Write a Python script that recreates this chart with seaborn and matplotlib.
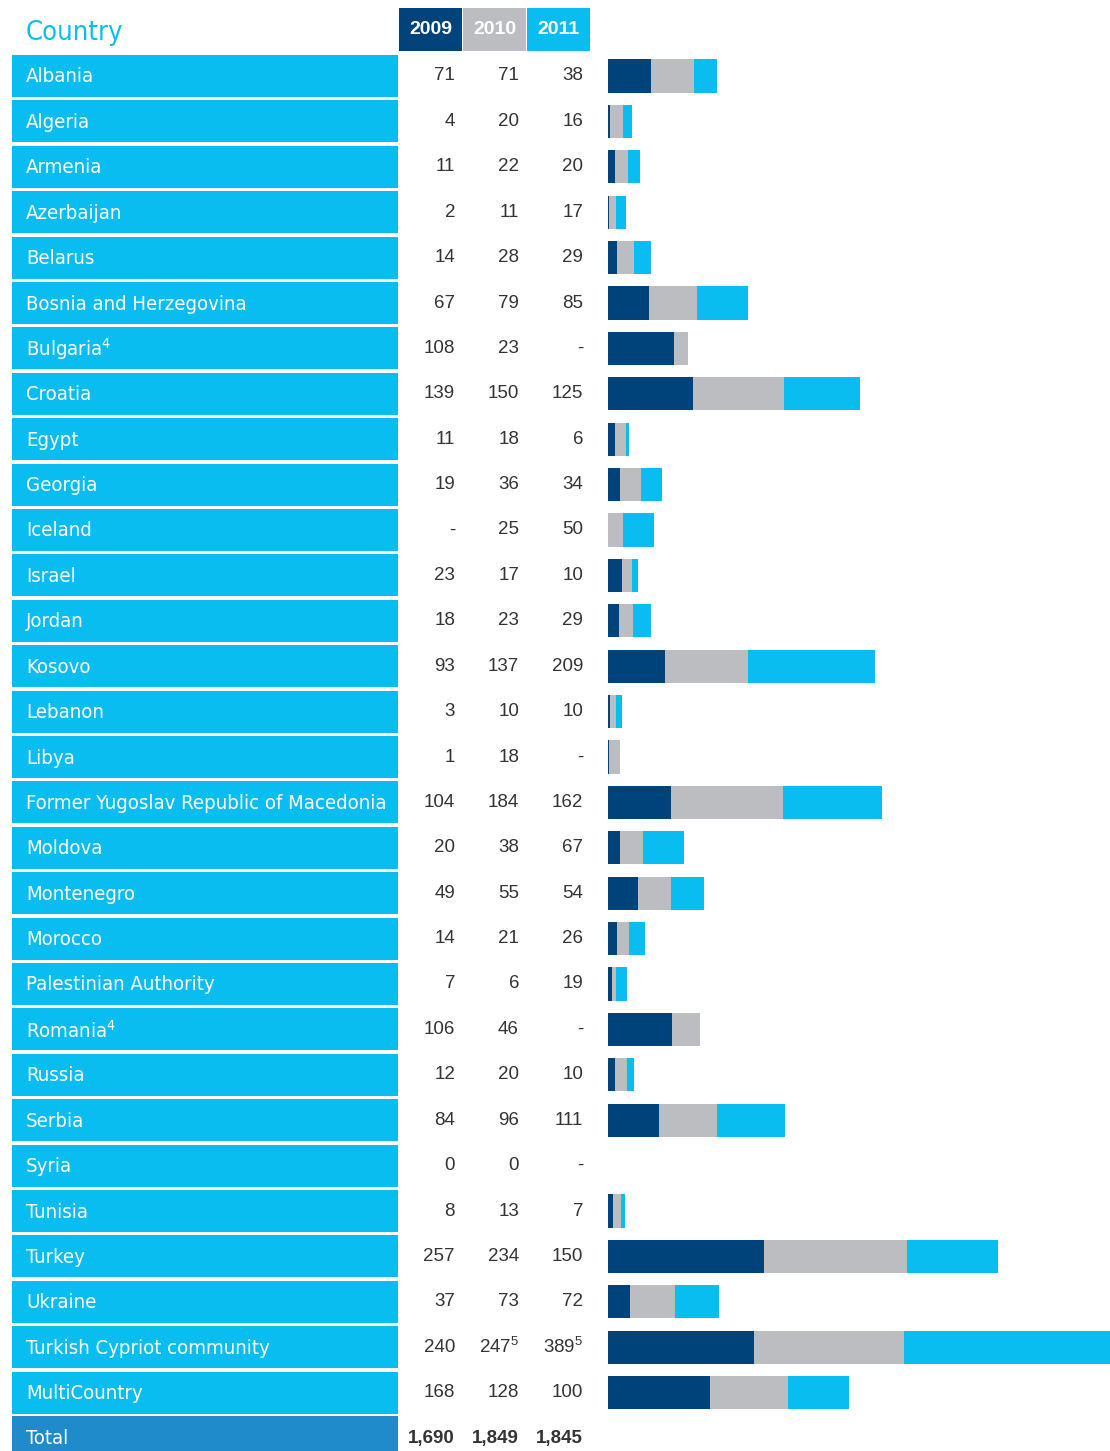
import numpy as np
import pandas as pd
import matplotlib
matplotlib.use("Agg")
import matplotlib.pyplot as plt
from matplotlib.patches import Rectangle
from matplotlib.font_manager import FontProperties, findfont
import seaborn as sns

countries = ["Albania", "Algeria", "Armenia", "Azerbaijan", "Belarus",
             "Bosnia and Herzegovina", "Bulgaria$^4$", "Croatia", "Egypt", "Georgia",
             "Iceland", "Israel", "Jordan", "Kosovo", "Lebanon", "Libya",
             "Former Yugoslav Republic of Macedonia", "Moldova", "Montenegro",
             "Morocco", "Palestinian Authority", "Romania$^4$", "Russia", "Serbia",
             "Syria", "Tunisia", "Turkey", "Ukraine", "Turkish Cypriot community",
             "MultiCountry"]
v2009 = [71, 4, 11, 2, 14, 67, 108, 139, 11, 19, None, 23, 18, 93, 3, 1, 104,
         20, 49, 14, 7, 106, 12, 84, 0, 8, 257, 37, 240, 168]
v2010 = [71, 20, 22, 11, 28, 79, 23, 150, 18, 36, 25, 17, 23, 137, 10, 18, 184,
         38, 55, 21, 6, 46, 20, 96, 0, 13, 234, 73, 247, 128]
v2011 = [38, 16, 20, 17, 29, 85, None, 125, 6, 34, 50, 10, 29, 209, 10, None,
         162, 67, 54, 26, 19, None, 10, 111, None, 7, 150, 72, 389, 100]
notes2010 = {28: "5"}
notes2011 = {28: "5"}
years = ["2009", "2010", "2011"]
totals = ["1,690", "1,849", "1,845"]

C_DARK = "#00427a"
C_GREY = "#bcbdc1"
C_CYAN = "#0abdf0"
C_TOTAL = "#1f8bcb"
C_TEXT = "#333333"

sns.set_theme(style="white")
plt.rcParams["font.family"] = ["Liberation Sans", "DejaVu Sans"]
plt.rcParams["mathtext.default"] = "regular"

# fonte condensada se existir, senão Liberation Sans menor
cond = findfont(FontProperties(family="DejaVu Sans", stretch="condensed"))
if "Condensed" in cond:
    NAME_FONT = dict(family="DejaVu Sans", fontstretch="condensed", fontsize=14.6)
else:
    NAME_FONT = dict(family="Liberation Sans", fontsize=14.5)
NUM_FONT = dict(family="Liberation Sans", fontsize=13.5)

W, H = 1110, 1451
fig = plt.figure(figsize=(W / 100, H / 100), dpi=100)

y0, step = 76, 45.4
n = len(countries)

# --- Tabela (eixo em pixels) ---
tab = fig.add_axes([0, 0, 1, 1])
tab.set_xlim(0, W)
tab.set_ylim(H, 0)
tab.axis("off")

hdr = dict(NAME_FONT)
hdr["fontsize"] = 19.5
tab.text(26, 33, "Country", color=C_CYAN, va="center", ha="left", **hdr)
for k, (yr, col) in enumerate(zip(years, [C_DARK, C_GREY, C_CYAN])):
    x = 399 + k * 64
    tab.add_patch(Rectangle((x, 8), 63, 43, color=col, lw=0))
    tab.text(x + 31.5, 30, yr, color="white", fontsize=14, fontweight="bold",
             family="Liberation Sans", ha="center", va="center")


def fmt(v):
    return "-" if v is None else str(v)


num_x = [455, 519, 583]
for i, name in enumerate(countries):
    yc = y0 + step * i
    tab.add_patch(Rectangle((12, yc - 21), 386, 42, color=C_CYAN, lw=0))
    tab.text(26, yc + 1, name, color="white", ha="left", va="center", **NAME_FONT)
    vals = [fmt(v2009[i]), fmt(v2010[i]), fmt(v2011[i])]
    if i in notes2010:
        vals[1] += "$^{%s}$" % notes2010[i]
    if i in notes2011:
        vals[2] += "$^{%s}$" % notes2011[i]
    for x, s in zip(num_x, vals):
        tab.text(x, yc, s, color=C_TEXT, ha="right", va="center", **NUM_FONT)

# Linha do total
yt = y0 + step * n
tab.add_patch(Rectangle((12, yt - 22), 386, 60, color=C_TOTAL, lw=0))
tab.text(26, yt + 1, "Total", color="white", ha="left", va="center", **NAME_FONT)
for x, s in zip(num_x, totals):
    tab.text(x, yt, s, color=C_TEXT, fontweight="bold",
             ha="right", va="center", **NUM_FONT)

# --- Barras empilhadas (seaborn, camadas cumulativas) ---
a = np.nan_to_num(np.array([np.nan if v is None else v for v in v2009], dtype=float))
b = np.nan_to_num(np.array([np.nan if v is None else v for v in v2010], dtype=float))
c = np.nan_to_num(np.array([np.nan if v is None else v for v in v2011], dtype=float))
df = pd.DataFrame({"country": countries, "c1": a, "c2": a + b, "c3": a + b + c})

scale = 0.608  # px por unidade
bx0 = 608
bax = fig.add_axes([bx0 / W, 0, (W - bx0) / W, 1])
for colname, col in [("c3", C_CYAN), ("c2", C_GREY), ("c1", C_DARK)]:
    sns.barplot(data=df, x=colname, y="country", color=col, orient="h",
                width=0.73, saturation=1, ax=bax, linewidth=0)
bax.set_xlim(0, (W - bx0) / scale)
bax.set_ylim((H - y0) / step, -y0 / step)
bax.axis("off")

plt.savefig("out.png", dpi=100)
plt.close()
